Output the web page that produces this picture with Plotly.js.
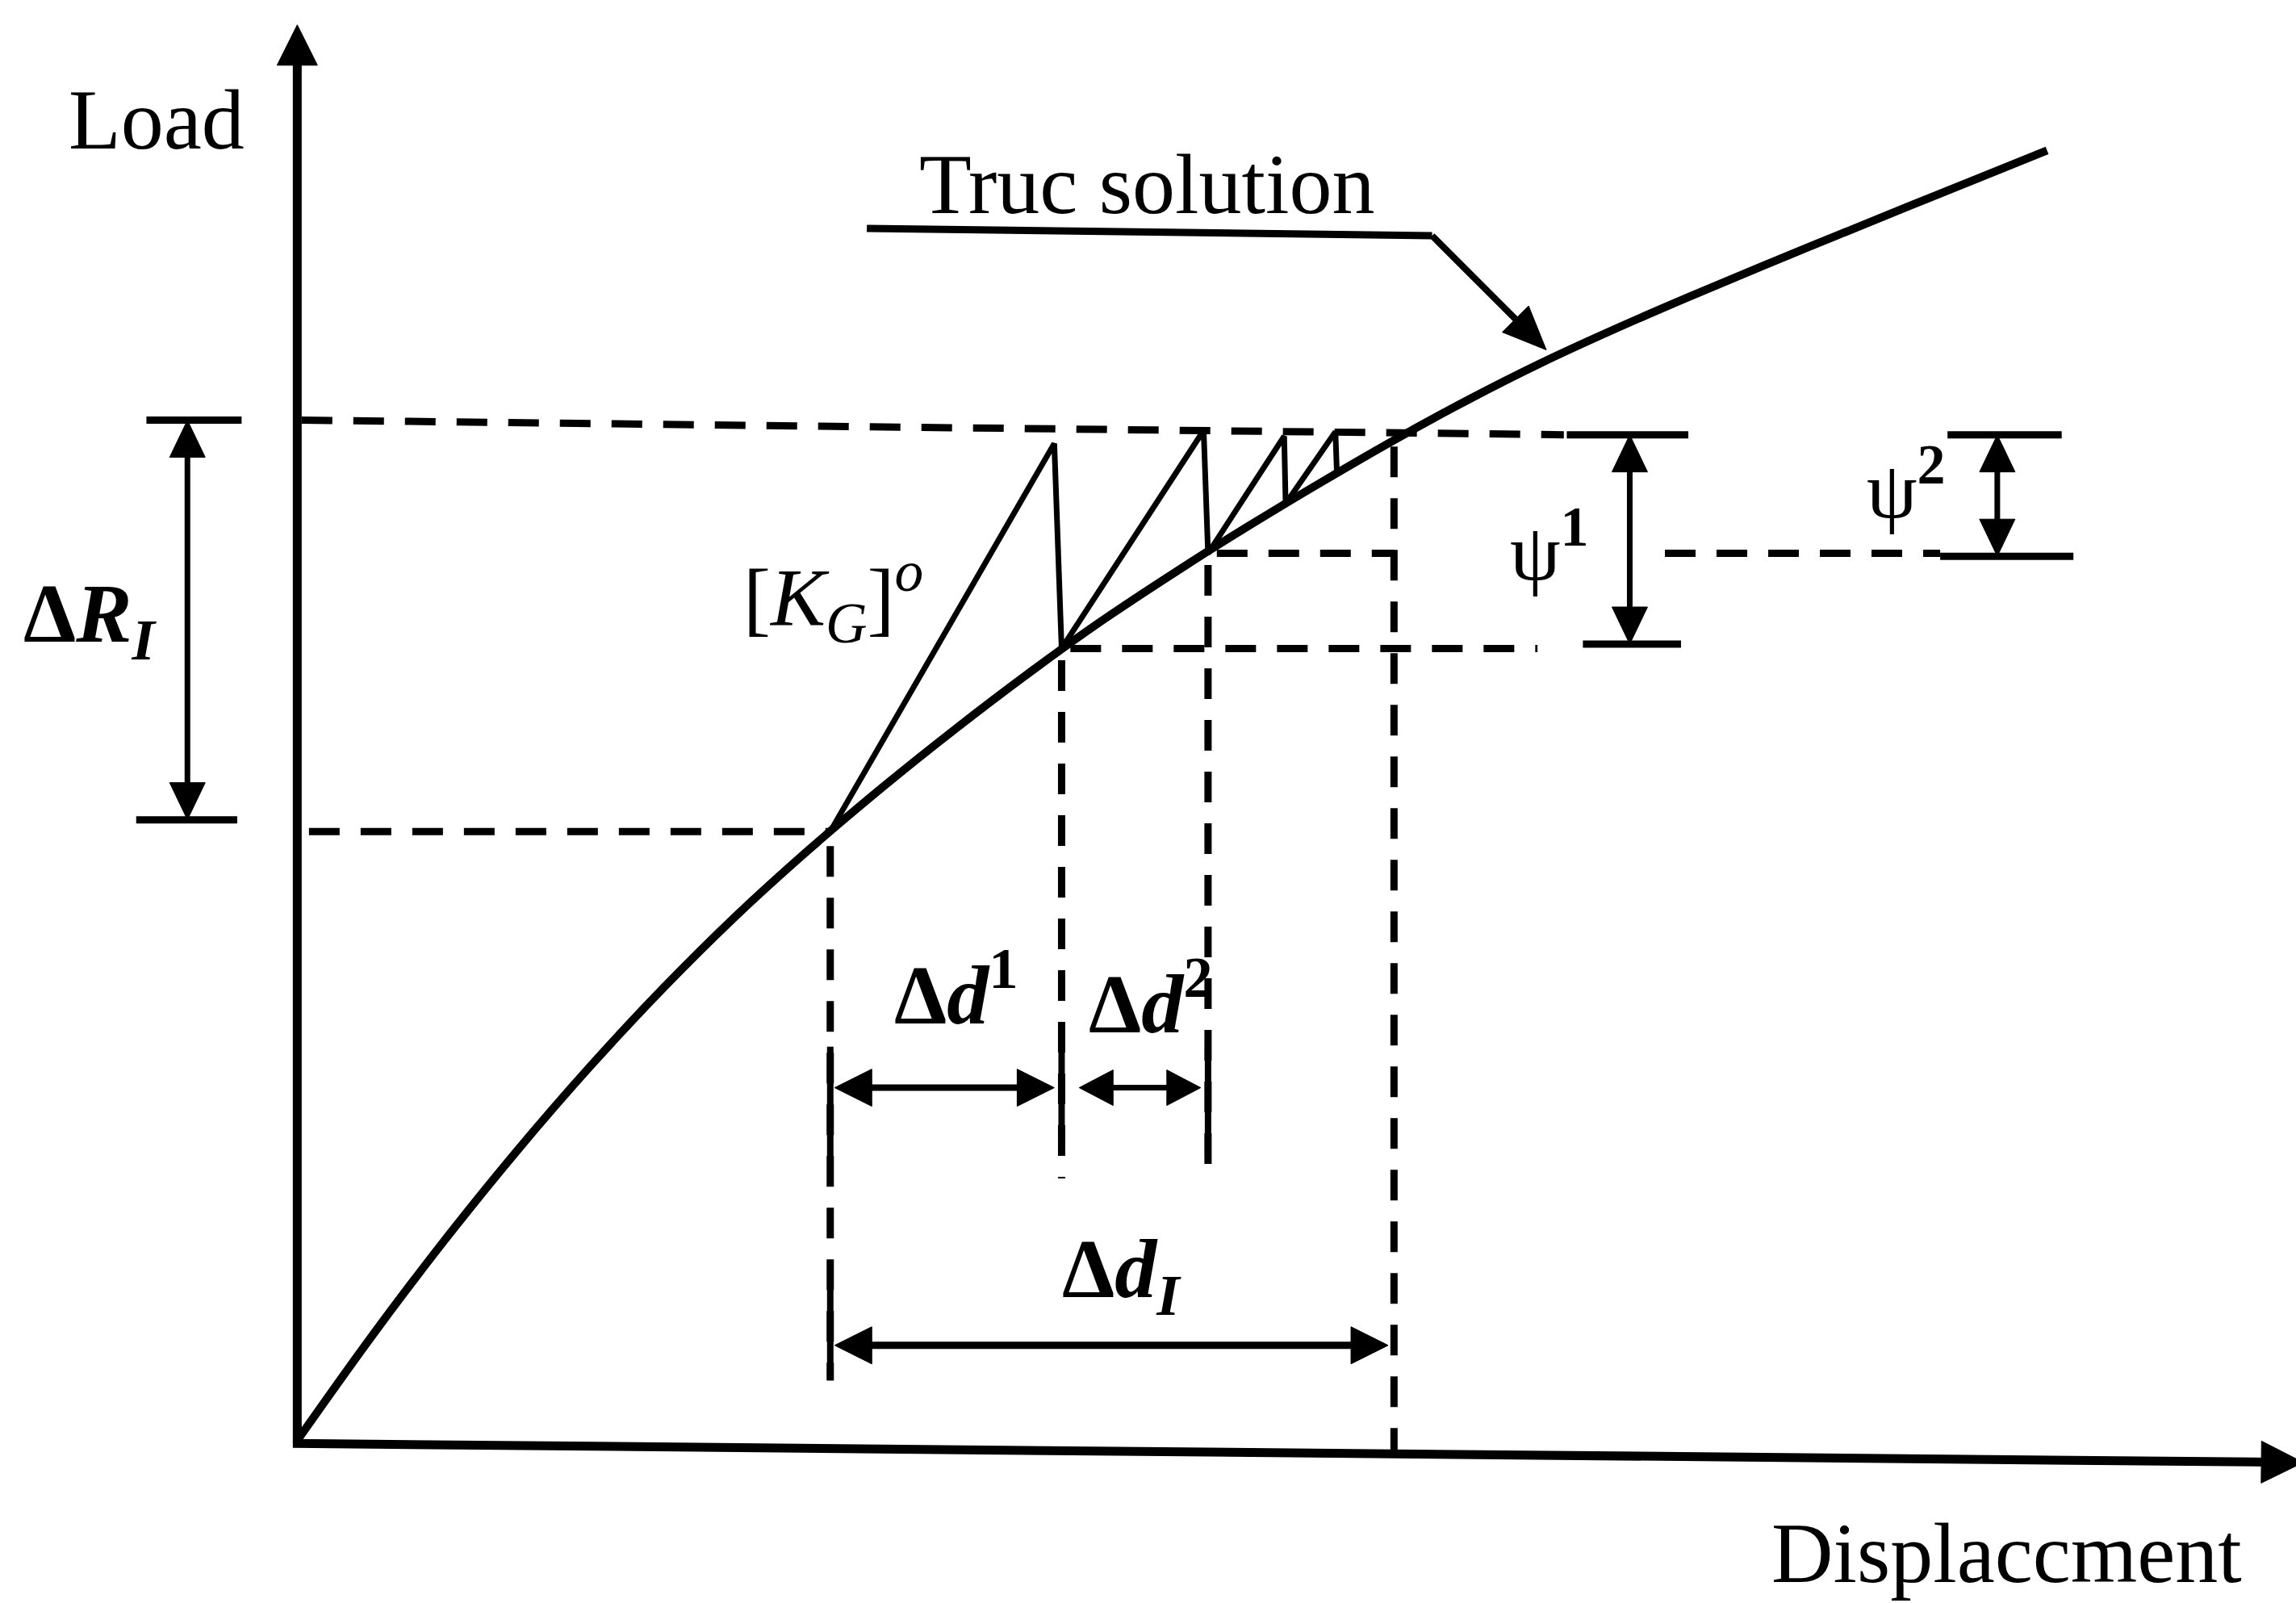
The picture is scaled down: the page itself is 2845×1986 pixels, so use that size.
<!DOCTYPE html>
<html>
<head>
<meta charset="utf-8">
<script src="https://cdn.plot.ly/plotly-3.0.1.min.js"></script>
<style>
  html, body { margin: 0; padding: 0; background: #ffffff; }
  #chart { width: 2845px; height: 1986px; }
</style>
</head>
<body>
<div id="chart"></div>
<script>
// True load–displacement response (arbitrary units)
const curveDisp = [0, 5, 10, 15, 20, 25, 30, 35, 40, 45, 50, 55, 60, 65, 70, 75, 80, 85, 90, 95, 100, 105, 110, 115, 119.5];
const curveLoad = [0.90, 7.90, 14.50, 20.68, 26.45, 31.81, 36.77, 41.31, 45.55, 49.55, 53.35, 56.93, 60.24, 63.39, 66.40, 69.29, 72.01, 74.53, 76.83, 79.00, 81.10, 83.15, 85.19, 87.21, 89.02];

// Newton–Raphson path: tangent up to the target load, then drop back onto the curve
const iterDisp = [36.4, 51.7, 52.2, 61.9, 62.2, 67.4, 67.5, 70.9, 71.0];
const iterLoad = [42.5, 69.0, 55.0, 69.9, 61.5, 69.5, 64.9, 69.8, 67.0];

// Load levels
const loadStart = 42.5;            // start of the load increment
const loadTarget = [70.6, 69.6];   // target level (left end, right end of the guide)
const loadIter = [55.0, 61.5];     // equilibrium after iterations 1 and 2
const loadTickLow = 43.3;          // lower ΔR tick

// Displacement levels
const dispStart = 36.4;
const dispIter = [52.2, 62.2];
const dispEnd = 74.9;

// Dimension-arrow levels
const arrowLoadSmall = 25.0;       // Δd¹, Δd²
const arrowLoadTotal = 7.4;        // Δd_I
const dispArrowDR = -7.5;          // ΔR_I
const dispArrowPsi = [91.0, 116.1];

// Axis extents
const axisDispMax = 137.0;
const axisLoadMax = 97.6;

const labels = {
  load: 'Load',
  disp: 'Displaccment',
  truc: 'Truc solution',
  kg: '[<i>K</i><sub><i>G</i></sub>]<sup><i>o</i></sup>',
  dR: '<b>Δ<i>R</i></b><sub><b><i>I</i></b></sub>',
  dd1: '<b>Δ<i>d</i></b><sup><b>1</b></sup>',
  dd2: '<b>Δ<i>d</i></b><sup><b>2</b></sup>',
  ddI: '<b>Δ<i>d</i></b><sub><b><i>I</i></b></sub>',
  psi1: 'ψ<sup><b>1</b></sup>',
  psi2: 'ψ<sup><b>2</b></sup>'
};

const K = '#000000';
const FONT = 'Liberation Serif, Times New Roman, serif';

// page geometry → pixels per data unit (for sizing arrowheads in pixels)
const W = 2845, H = 1986;
const xRange = [-20.3, 136.5], yRange = [-10.2, 99.3];
const pxX = W / (xRange[1] - xRange[0]);
const pxY = H / (yRange[1] - yRange[0]);

// helper: join segments into one path separated by gaps
function joinSegs(segs) {
  const x = [], y = [];
  segs.forEach(s => { x.push(s[0][0], s[1][0], null); y.push(s[0][1], s[1][1], null); });
  return { x, y };
}

// dashed guide lines
const dashed = joinSegs([
  [[0.3, loadTarget[0]], [86.5, loadTarget[1]]],
  [[0.8, loadStart], [dispStart, loadStart]],
  [[dispIter[0] + 0.6, loadIter[0]], [84.7, loadIter[0]]],
  [[dispIter[1] + 0.6, loadIter[1]], [dispEnd, loadIter[1]]],
  [[93.4, loadIter[1]], [112.2, loadIter[1]]],
  [[dispStart, loadStart - 1.0], [dispStart, 5.0]],
  [[dispIter[0], loadIter[0] - 0.8], [dispIter[0], 18.8]],
  [[dispIter[1], loadIter[1] - 0.8], [dispIter[1], 18.8]],
  [[dispEnd, 68.8], [dispEnd, 0]]
]);

// solid extension lines at the ends of the Δd arrows
const extension = joinSegs([
  [[dispStart, arrowLoadSmall + 2.8], [dispStart, arrowLoadSmall - 4.8]],
  [[dispIter[0], arrowLoadSmall + 2.8], [dispIter[0], arrowLoadSmall - 3.8]],
  [[dispIter[1], arrowLoadSmall + 2.8], [dispIter[1], arrowLoadSmall - 4.8]],
  [[dispStart, arrowLoadTotal + 3.8], [dispStart, arrowLoadTotal - 2.4]]
]);

// solid ticks bounding the dimension arrows
const ticks = joinSegs([
  [[-10.3, loadTarget[0]], [-3.8, loadTarget[0]]],
  [[-11.0, loadTickLow], [-4.1, loadTickLow]],
  [[86.7, loadTarget[1]], [95.0, loadTarget[1]]],
  [[87.8, loadIter[0] + 0.3], [94.5, loadIter[0] + 0.3]],
  [[112.7, loadTarget[1]], [120.5, loadTarget[1]]],
  [[112.2, loadIter[1] - 0.2], [121.3, loadIter[1] - 0.2]]
]);

// leader line for the curve label
const leader = joinSegs([[[38.9, 83.7], [77.5, 83.2]]]);

const traces = [
  { x: curveDisp, y: curveLoad, mode: 'lines', line: { color: K, width: 10, shape: 'spline', smoothing: 1 }, hoverinfo: 'skip' },
  { x: iterDisp, y: iterLoad, mode: 'lines', line: { color: K, width: 7 }, hoverinfo: 'skip' },
  { x: dashed.x, y: dashed.y, mode: 'lines', line: { color: K, width: 9, dash: '38px,26px' }, connectgaps: false, hoverinfo: 'skip' },
  { x: extension.x, y: extension.y, mode: 'lines', line: { color: K, width: 8 }, connectgaps: false, hoverinfo: 'skip' },
  { x: ticks.x, y: ticks.y, mode: 'lines', line: { color: K, width: 9 }, connectgaps: false, hoverinfo: 'skip' },
  { x: leader.x, y: leader.y, mode: 'lines', line: { color: K, width: 9 }, hoverinfo: 'skip' }
];

// arrows: shaft plus filled triangular head(s), head sizes in pixels
function addArrow(x0, y0, x1, y1, both, width, L, Wd) {
  const dxp = (x1 - x0) * pxX, dyp = (y1 - y0) * pxY;
  const len = Math.hypot(dxp, dyp);
  const ux = dxp / len, uy = dyp / len;
  const head = (tx, ty, sx, sy) => {
    const bx = tx - sx * L / pxX, by = ty - sy * L / pxY;
    const nx = -sy * Wd / 2, ny = sx * Wd / 2;
    traces.push({
      x: [tx, bx + nx / pxX, bx - nx / pxX, tx],
      y: [ty, by + ny / pxY, by - ny / pxY, ty],
      mode: 'lines', fill: 'toself', fillcolor: K,
      line: { color: K, width: 1 }, hoverinfo: 'skip'
    });
  };
  const sx0 = both ? x0 + ux * L * 0.5 / pxX : x0;
  const sy0 = both ? y0 + uy * L * 0.5 / pxY : y0;
  const sx1 = x1 - ux * L * 0.5 / pxX, sy1 = y1 - uy * L * 0.5 / pxY;
  traces.push({ x: [sx0, sx1], y: [sy0, sy1], mode: 'lines', line: { color: K, width }, hoverinfo: 'skip' });
  head(x1, y1, ux, uy);
  if (both) head(x0, y0, -ux, -uy);
}

// axes
addArrow(0, 0.7, 0, axisLoadMax, false, 11, 50, 50);
addArrow(-0.3, 0.7, axisDispMax, -0.6, false, 11, 52, 52);
// dimension arrows
addArrow(dispArrowDR, loadTickLow, dispArrowDR, loadTarget[0], true, 7, 46, 44);
addArrow(dispArrowPsi[0], loadIter[0] + 0.3, dispArrowPsi[0], loadTarget[1], true, 7, 46, 44);
addArrow(dispArrowPsi[1], loadIter[1] - 0.2, dispArrowPsi[1], loadTarget[1], true, 7, 46, 44);
addArrow(dispStart + 0.3, arrowLoadSmall, dispIter[0] - 0.5, arrowLoadSmall, true, 8, 46, 46);
addArrow(dispIter[0] + 1.2, arrowLoadSmall, dispIter[1] - 0.5, arrowLoadSmall, true, 7, 42, 44);
addArrow(dispStart + 0.3, arrowLoadTotal, dispEnd - 0.4, arrowLoadTotal, true, 9, 46, 46);
// leader arrow pointing at the curve
addArrow(77.5, 83.2, 85.3, 75.4, false, 8, 54, 46);

function label(text, x, y, size, extra) {
  return Object.assign({
    text, x, y, xref: 'x', yref: 'y', showarrow: false,
    font: { family: FONT, size, color: K },
    xanchor: 'center', yanchor: 'middle'
  }, extra || {});
}

const annotations = [
  label(labels.load, -9.6, 91.1, 106),
  label(labels.truc, 58.0, 86.7, 106),
  label(labels.disp, 132.9, -6.8, 106, { xanchor: 'right' }),
  label(labels.kg, 36.6, 58.5, 102),
  label(labels.dR, -14.1, 57.0, 104),
  label(labels.dd1, 45.0, 31.8, 104),
  label(labels.dd2, 58.3, 31.2, 104),
  label(labels.ddI, 56.3, 12.2, 104),
  label(labels.psi1, 85.5, 62.0, 100),
  label(labels.psi2, 109.9, 66.2, 100)
];

const layout = {
  width: W, height: H,
  margin: { l: 0, r: 0, t: 0, b: 0, pad: 0 },
  paper_bgcolor: '#ffffff', plot_bgcolor: '#ffffff',
  showlegend: false,
  xaxis: { range: xRange, visible: false, fixedrange: true },
  yaxis: { range: yRange, visible: false, fixedrange: true },
  annotations
};

Plotly.newPlot('chart', traces, layout, { staticPlot: true, displayModeBar: false });
</script>
</body>
</html>
